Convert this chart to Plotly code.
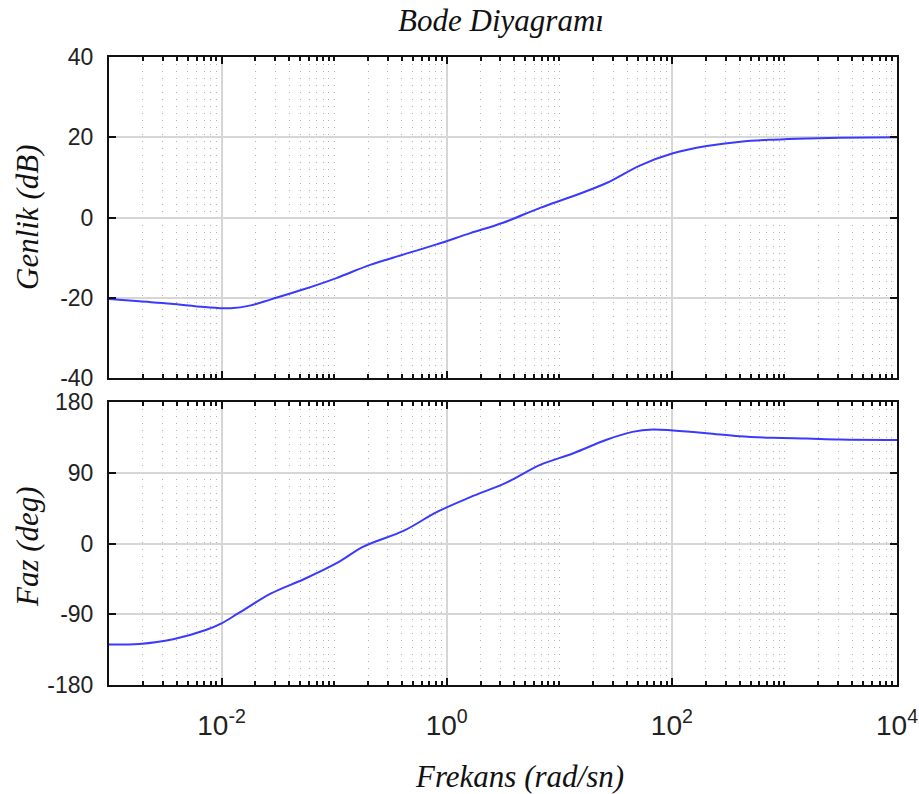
import plotly.graph_objects as go
from plotly.subplots import make_subplots

# log10 of frequency (rad/sn)
log_freq = [-3.0, -2.73, -2.45, -2.15, -1.92, -1.74, -1.56, -1.27, -0.98, -0.68, -0.38,
            -0.09, 0.21, 0.5, 0.83, 1.12, 1.42, 1.72, 2.01, 2.31, 2.61, 2.9, 3.2, 3.49, 4.0]
magnitude_db = [-20.3, -20.9, -21.5, -22.3, -22.6, -21.9, -20.4, -17.9, -15.1, -11.8, -9.2,
                -6.7, -3.9, -1.3, 2.4, 5.3, 8.6, 13.0, 16.0, 17.8, 18.9, 19.4, 19.7, 19.85, 20.0]
log_freq_ph = [-3.0, -2.73, -2.43, -2.14, -2.0, -1.85, -1.56, -1.27, -0.97, -0.74, -0.38,
               -0.09, 0.21, 0.53, 0.83, 1.12, 1.42, 1.65, 1.83, 2.01, 2.31, 2.6, 2.9, 3.2, 3.49, 4.0]
phase_deg = [-128.6, -127.7, -121.7, -110.0, -101.6, -88.7, -63.5, -45.5, -24.4, -4.0, 16.3,
             39.9, 59.0, 77.4, 100.0, 114.5, 132.0, 142.0, 145.0, 143.8, 140.4, 136.5, 134.4, 133.5, 132.4, 131.8]

freq = [10 ** v for v in log_freq]
freq_ph = [10 ** v for v in log_freq_ph]

x_tickvals = [1e-2, 1e0, 1e2, 1e4]
x_ticktext = ["10<sup>-2</sup>", "10<sup>0</sup>", "10<sup>2</sup>", "10<sup>4</sup>"]
mag_ticks = [-40, -20, 0, 20, 40]
mag_labels = ["-40", "-20", "0", "20", "40"]
phase_ticks = [-180, -90, 0, 90, 180]
phase_labels = ["-180", "-90", "0", "90", "180"]

W, H = 919, 794
L, R, T, B = 109, 22, 57, 109
ph = H - T - B

fig = make_subplots(rows=2, cols=1, vertical_spacing=24 / ph, row_heights=[321, 283])

line = dict(color="#3a3aff", width=2, shape="spline", smoothing=1.0)
fig.add_trace(go.Scatter(x=freq, y=magnitude_db, mode="lines", line=line, showlegend=False), 1, 1)
fig.add_trace(go.Scatter(x=freq_ph, y=phase_deg, mode="lines", line=line, showlegend=False), 2, 1)

ytickfont = dict(family="Liberation Sans", size=23, color="#222222")
xtickfont = dict(family="Liberation Sans Narrow, Liberation Sans", size=28, color="#222222")
xcommon = dict(type="log", range=[-3, 4], tickmode="array", tickvals=x_tickvals,
               showline=True, linecolor="#111111", linewidth=2, mirror="ticks",
               ticks="inside", ticklen=7, tickwidth=2, tickcolor="#111111",
               showgrid=True, gridcolor="#d6d6d6", gridwidth=1.5, zeroline=False,
               minor=dict(dtick="D1", ticks="inside", ticklen=4, tickwidth=1.5, tickcolor="#111111",
                          showgrid=True, gridcolor="#b0b0b0", griddash="1px,6px", gridwidth=1),
               tickfont=xtickfont, automargin=False)
fig.update_xaxes(**xcommon, showticklabels=False, row=1, col=1)
fig.update_xaxes(**xcommon, ticktext=x_ticktext, showticklabels=True, ticklabelstandoff=14, row=2, col=1)

ycommon = dict(showline=True, linecolor="#111111", linewidth=2, mirror="ticks",
               ticks="inside", ticklen=7, tickwidth=2, tickcolor="#111111",
               showgrid=True, gridcolor="#d6d6d6", gridwidth=1.5, zeroline=False,
               tickfont=ytickfont, ticklabelstandoff=9, automargin=False)
fig.update_yaxes(**ycommon, range=[-40, 40], tickmode="array", tickvals=mag_ticks,
                 ticktext=mag_labels, row=1, col=1)
fig.update_yaxes(**ycommon, range=[-180, 180], tickmode="array", tickvals=phase_ticks,
                 ticktext=phase_labels, row=2, col=1)

serif = dict(family="Liberation Serif", size=31, color="#111111")
pw = W - L - R
fig.update_layout(
    width=W, height=H, margin=dict(l=L, r=R, t=T, b=B, autoexpand=False),
    paper_bgcolor="white", plot_bgcolor="white",
    title=dict(text="<i>Bode Diyagramı</i>", font=serif, x=501 / W, xanchor="center",
               y=1 - 20 / H, yanchor="middle", xref="container", yref="container"),
    annotations=[
        dict(text="<i>Genlik (dB)</i>", font=serif, textangle=-90, xref="paper", yref="paper",
             x=(27 - L) / pw, y=(H - B - 218) / ph, showarrow=False, xanchor="center", yanchor="middle"),
        dict(text="<i>Faz (deg)</i>", font=serif, textangle=-90, xref="paper", yref="paper",
             x=(27 - L) / pw, y=(H - B - 547) / ph, showarrow=False, xanchor="center", yanchor="middle"),
        dict(text="<i>Frekans (rad/sn)</i>", font=serif, xref="paper", yref="paper",
             x=(519 - L) / pw, y=(H - B - 776) / ph, showarrow=False, xanchor="center", yanchor="middle"),
    ],
)

fig.write_html("out.html", config={"displayModeBar": False},
               post_script="document.body.style.margin='0';")
